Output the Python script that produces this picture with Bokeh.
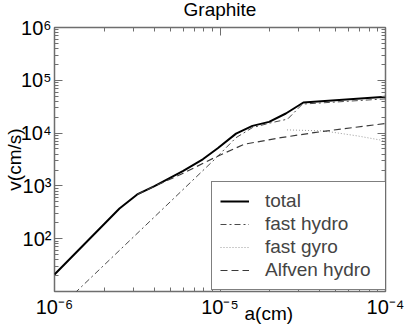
import math
from bokeh.plotting import figure
from bokeh.models import (LogAxis, Label, Legend, LegendItem, CustomJSTickFormatter,
                          Range1d, FixedTicker, Title)
from bokeh.embed import file_html
from bokeh.resources import INLINE

# ---- data ----
a_total = [1e-6, 2.47e-6, 3.16e-6, 4.02e-6, 5.96e-6, 7.87e-6, 9.69e-6, 1.25e-5,
           1.57e-5, 1.98e-5, 2.50e-5, 3.19e-5, 1e-4]
v_total = [21, 373, 689, 990, 1910, 3190, 5160, 9770, 13700, 16300, 23500, 38000, 49000]

a_fast_hydro = [1e-6, 9.2e-6, 1.25e-5, 1.57e-5, 2.0e-5, 2.56e-5, 3.15e-5, 1e-4]
v_fast_hydro = [4.0, 3100, 8200, 12700, 15500, 18400, 35400, 44500]

a_fast_gyro = [2.54e-5, 4.24e-5, 6.76e-5, 1e-4]
v_fast_gyro = [11500, 11000, 8850, 7100]

a_alfven_hydro = [3.16e-6, 4.02e-6, 5.82e-6, 9.25e-6, 1.40e-5, 2.33e-5, 3.70e-5, 5.36e-5, 1e-4]
v_alfven_hydro = [689, 985, 1660, 3420, 6150, 8200, 10200, 11900, 15200]

x_tick_values = [1e-6, 1e-5, 1e-4]
x_tick_labels = ["10\u207b\u2076", "10\u207b\u2075", "10\u207b\u2074"]
y_tick_values = [1e1, 1e2, 1e3, 1e4, 1e5, 1e6]
y_tick_labels = ["", "10\u00b2", "10\u00b3", "10\u2074", "10\u2075", "10\u2076"]

series_names = ["total", "fast hydro", "fast gyro", "Alfven hydro"]

FONT = "Liberation Sans"
FRAME_COL = "#6e6e6e"

def minor_ticks(values):
    out = []
    for v in values[:-1]:
        for m in range(2, 10):
            out.append(v * m)
    return out

p = figure(width=407, height=325, x_axis_type="log", y_axis_type="log",
           x_range=Range1d(1e-6, 1e-4), y_range=Range1d(10, 1e6),
           output_backend="svg", toolbar_location=None,
           min_border_left=53, min_border_right=22, min_border_top=27, min_border_bottom=34)
p.xgrid.visible = False
p.ygrid.visible = False
p.outline_line_color = FRAME_COL
p.outline_line_width = 1.5
p.background_fill_color = "white"
p.border_fill_color = "white"

fmt_code = """
let best = 0, bd = Infinity;
for (let i = 0; i < vals.length; i++) {
  const d = Math.abs(Math.log10(tick) - Math.log10(vals[i]));
  if (d < bd) { bd = d; best = i; }
}
return bd < 1e-6 ? labs[best] : "";
"""
blank = CustomJSTickFormatter(code="return '';")

def style_axis(ax):
    ax.axis_line_color = None
    ax.major_tick_in = 8
    ax.major_tick_out = 0
    ax.minor_tick_in = 4
    ax.minor_tick_out = 0
    ax.major_tick_line_color = FRAME_COL
    ax.minor_tick_line_color = FRAME_COL
    ax.major_tick_line_width = 1
    ax.minor_tick_line_width = 1
    ax.major_label_text_font = FONT
    ax.major_label_text_font_size = "20px"
    ax.major_label_text_color = "black"

xt = FixedTicker(ticks=x_tick_values, minor_ticks=minor_ticks(x_tick_values))
yt = FixedTicker(ticks=y_tick_values, minor_ticks=minor_ticks(y_tick_values))

xa = p.xaxis[0]
xa.ticker = xt
xa.formatter = CustomJSTickFormatter(args=dict(vals=x_tick_values, labs=x_tick_labels), code=fmt_code)
style_axis(xa)
xa.major_label_standoff = 4

ya = p.yaxis[0]
ya.ticker = yt
ya.formatter = CustomJSTickFormatter(args=dict(vals=y_tick_values, labs=y_tick_labels), code=fmt_code)
style_axis(ya)
ya.major_label_standoff = 3
ya.axis_label = "v(cm/s)"
ya.axis_label_text_font = FONT
ya.axis_label_text_font_size = "19px"
ya.axis_label_text_font_style = "normal"
ya.axis_label_text_color = "black"
ya.axis_label_standoff = -7

top = LogAxis(ticker=xt, formatter=blank)
style_axis(top)
right = LogAxis(ticker=yt, formatter=blank)
style_axis(right)
p.add_layout(top, "above")
p.add_layout(right, "right")

r_total = p.line(a_total, v_total, line_color="black", line_width=2)
r_fh = p.line(a_fast_hydro, v_fast_hydro, line_color="#4a4a4a", line_width=1,
              line_dash="6 3 2 3")
r_fg = p.line(a_fast_gyro, v_fast_gyro, line_color="#9a9a9a", line_width=1,
              line_dash="1 2")
r_ah = p.line(a_alfven_hydro, v_alfven_hydro, line_color="#3a3a3a", line_width=1.2,
              line_dash="7 4")

legend = Legend(items=[LegendItem(label=n, renderers=[r]) for n, r in
                       zip(series_names, [r_total, r_fh, r_fg, r_ah])],
                location=(157, 1), padding=8, spacing=1, margin=0,
                glyph_width=29, glyph_height=20, label_height=20, label_width=112,
                label_standoff=16, label_text_font=FONT, label_text_font_size="19px",
                border_line_color="black", border_line_width=1.5,
                background_fill_color="white", background_fill_alpha=1.0)
p.add_layout(legend)

p.add_layout(Label(x=1.0e-5, y=18, x_units="data", y_units="screen", text="Graphite",
                   text_font=FONT, text_font_size="19px", text_align="center",
                   text_baseline="alphabetic", text_color="black"), "above")

xlabel = Title(text="a(cm)", align="left", offset=190, standoff=-36, vertical_align="top",
               text_font=FONT, text_font_size="19px", text_font_style="normal",
               text_color="black")
p.add_layout(xlabel, "below")

open("out.html", "w").write(file_html(p, INLINE))
